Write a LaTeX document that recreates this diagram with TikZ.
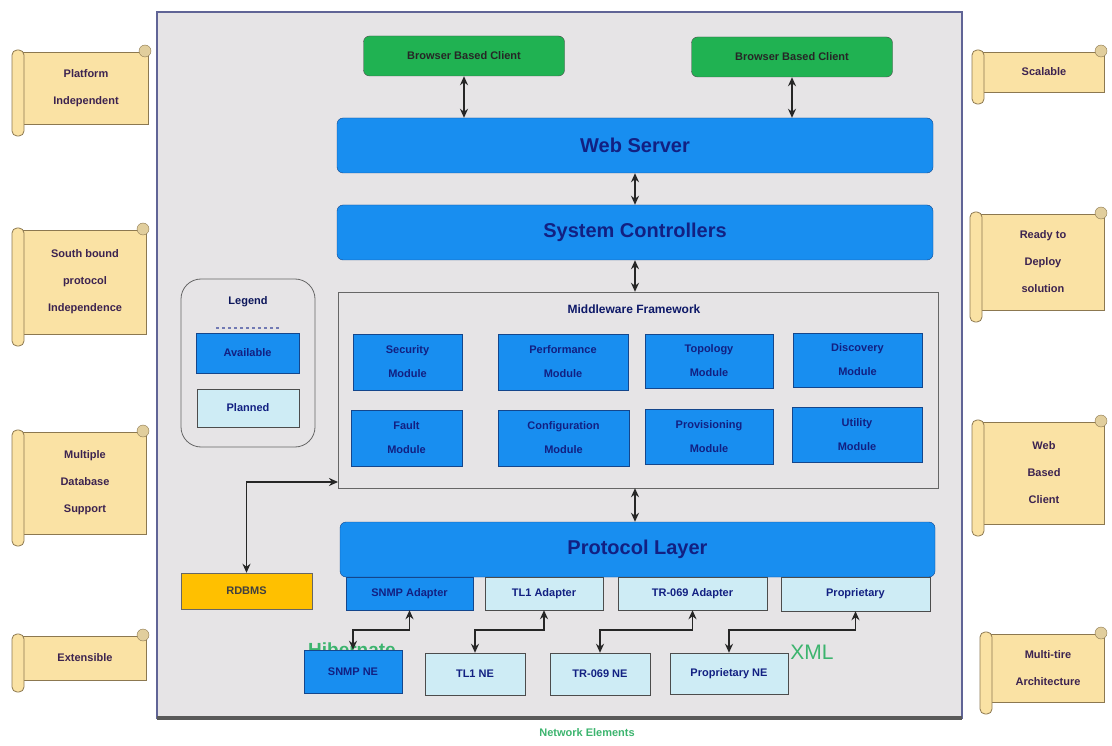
\documentclass[tikz,border=0pt]{standalone}
\usepackage{fontspec}
\setmainfont{Liberation Sans}
\usepackage{xcolor}
\usetikzlibrary{arrows.meta}

\definecolor{framegray}{RGB}{230,228,230}
\definecolor{framedge}{RGB}{96,100,150}
\definecolor{azure}{RGB}{24,142,240}
\definecolor{azedge}{RGB}{20,70,140}
\definecolor{navy}{RGB}{18,32,130}
\definecolor{planfill}{RGB}{206,236,245}
\definecolor{clientgreen}{RGB}{32,178,82}
\definecolor{rdbmsfill}{RGB}{255,192,0}
\definecolor{scrollfill}{RGB}{250,226,164}
\definecolor{scrolledge}{RGB}{140,120,80}
\definecolor{scrolltext}{RGB}{60,35,80}
\definecolor{hibgreen}{RGB}{60,180,110}

\tikzset{
  bluebar/.style={draw=azedge,fill=azure,rounded corners=6pt,text=navy,
    font=\fontsize{20}{24}\selectfont\bfseries},
  module/.style={draw=azedge,fill=azure,text=navy,align=center,
    font=\fontsize{11}{24}\selectfont\bfseries},
  planbox/.style={draw=black!70,fill=planfill,text=navy,
    font=\fontsize{11}{13}\selectfont\bfseries},
  client/.style={draw=black!70,fill=clientgreen,rounded corners=6pt,text=black!85,
    font=\fontsize{11}{13}\selectfont\bfseries,minimum width=201,minimum height=40},
  link/.style={{Stealth[length=9pt,width=8pt]}-{Stealth[length=9pt,width=8pt]},line width=1.6pt,black!85},
  feat/.style={text=scrolltext,align=center,font=\fontsize{11}{27}\selectfont\bfseries},
}

% side scroll: name, x0, y0, x1, y1, text
\newcommand{\featscroll}[6]{%
  \draw[scrolledge,fill=scrollfill,thick] ({#2+8},{#3+8}) rectangle ({#4-4},{#5-12}); %body%
  \draw[scrolledge,fill=scrollfill,thick,rounded corners=5pt] ({#2},{#3+6}) rectangle ({#2+12},{#5}); %left roll%
  \draw[scrolledge,fill=scrollfill!80!gray] ({#4-7},{#3+7}) circle (6); %top curl%
  \node[feat] (#1) at ({(#2+#4)/2+4},{(#3+#5)/2-2}) {#6};
}

\begin{document}
\begin{tikzpicture}[x=1pt,y=-1pt]
\useasboundingbox (0,0) rectangle (1112,746);

% main frame
\draw[fill=framegray,draw=framedge,line width=2pt] (157,12) rectangle (962,718);
\draw[line width=4pt,draw=black!65] (157,718) -- (962,718); %shadow%
\node[text=hibgreen,font=\fontsize{11}{13}\selectfont\bfseries] (netel) at (587,733) {Network Elements};

% clients
\node[client] (bbc1) at (464,56) {Browser Based Client};
\node[client] (bbc2) at (792,57) {Browser Based Client};

% tiers
\node[bluebar,minimum width=596,minimum height=55] (websrv) at (635,145.5) {Web Server};
\node[bluebar,minimum width=596,minimum height=55] (sysctl) at (635,232.5) {System Controllers};

\draw[link] (bbc1.south) -- (bbc1.south |- websrv.north);
\draw[link] (bbc2.south) -- (bbc2.south |- websrv.north);
\draw[link] (websrv.south) -- (sysctl.north);

% middleware
\node[draw=black!60,fill=framegray,minimum width=600,minimum height=196] (mwf) at (638,390) {};
\node[text=navy!80!black,font=\fontsize{12}{14}\selectfont\bfseries] (mwftitle) at (634,309) {Middleware Framework};
\draw[link] (sysctl.south) -- (sysctl.south |- mwf.north);

\node[module,minimum width=109,minimum height=56] (secmod) at (407.5,362) {Security\\Module};
\node[module,minimum width=130,minimum height=56] (perfmod) at (563,362) {Performance\\Module};
\node[module,minimum width=128,minimum height=54] (topomod) at (709,361) {Topology\\Module};
\node[module,minimum width=129,minimum height=54] (discmod) at (857.5,360) {Discovery\\Module};
\node[module,minimum width=111,minimum height=56] (faultmod) at (406.5,438) {Fault\\Module};
\node[module,minimum width=131,minimum height=56] (confmod) at (563.5,438) {Configuration\\Module};
\node[module,minimum width=128,minimum height=55] (provmod) at (709,436.5) {Provisioning\\Module};
\node[module,minimum width=130,minimum height=55] (utilmod) at (857,434.5) {Utility\\Module};

% legend
\node[draw=black!60,thick,rounded corners=20pt,minimum width=134,minimum height=168] (legend) at (248,363) {};
\node[text=navy!70!black,font=\fontsize{11}{13}\selectfont\bfseries] (legtitle) at (248,302) {Legend};
\draw[dashed,line width=1.5pt,navy!60] (216,328) -- (280,328);
\node[module,minimum width=103,minimum height=40] (avail) at (247.5,353) {Available};
\node[planbox,minimum width=102,minimum height=38] (planned) at (248,408) {Planned};

% database
\node[draw=black!60,fill=rdbmsfill,minimum width=131,minimum height=36,
  font=\fontsize{11}{13}\selectfont\bfseries,text=black!75] (rdbms) at (246.5,591) {RDBMS};
\coordinate (mwfin) at (338,482);
\draw[link] (rdbms.north) |- (mwfin);

% protocol layer
\node[bluebar,minimum width=595,minimum height=55] (proto) at (637.5,549.5) {Protocol Layer};
\draw[link] (sysctl.south |- mwf.south) -- (sysctl.south |- proto.north);

\node[module,minimum width=127,minimum height=33] (snmpad) at (409.5,593.5) {SNMP Adapter};
\node[planbox,minimum width=118,minimum height=33] (tl1ad) at (544,593.5) {TL1 Adapter};
\node[planbox,minimum width=149,minimum height=33] (trad) at (692.5,593.5) {TR-069 Adapter};
\node[planbox,minimum width=149,minimum height=34] (propad) at (855.5,594) {Proprietary};

% network elements
\node[text=hibgreen,font=\fontsize{19}{22}\selectfont\bfseries] (hib) at (352,650) {Hibernate};
\node[text=hibgreen,font=\fontsize{21}{24}\selectfont] (xml) at (812,652) {XML};

\node[module,minimum width=98,minimum height=43] (snmpne) at (353,671.5) {SNMP NE};
\node[planbox,minimum width=100,minimum height=42] (tl1ne) at (475,674) {TL1 NE};
\node[planbox,minimum width=100,minimum height=42] (trne) at (600,674) {TR-069 NE};
\node[planbox,minimum width=118,minimum height=41] (propne) at (729,673.5) {Proprietary NE};

\draw[link] (snmpne.north) -- ++(0,-20) -| (snmpad.south);
\draw[link] (tl1ne.north) -- ++(0,-23) -| (tl1ad.south);
\draw[link] (trne.north) -- ++(0,-23) -| (trad.south);
\draw[link] (propne.north) -- ++(0,-23) -| (propad.south);

% feature scrolls
\featscroll{platf}{12}{44}{152}{136}{Platform\\Independent}
\featscroll{south}{12}{222}{150}{346}{South bound\\protocol\\Independence}
\featscroll{multdb}{12}{424}{150}{546}{Multiple\\Database\\Support}
\featscroll{ext}{12}{628}{150}{692}{Extensible}
\featscroll{scal}{972}{44}{1108}{104}{Scalable}
\featscroll{ready}{970}{206}{1108}{322}{Ready to\\Deploy\\solution}
\featscroll{webcl}{972}{414}{1108}{536}{Web\\Based\\Client}
\featscroll{multier}{980}{626}{1108}{714}{\fontsize{11}{19}\selectfont Multi-tire\\Architecture}

\end{tikzpicture}
\end{document}
